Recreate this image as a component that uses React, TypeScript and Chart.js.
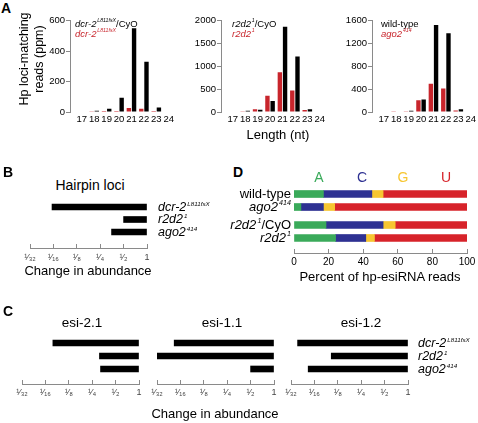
import React, { useEffect, useRef } from 'react';
import { Chart, registerables } from 'chart.js';

Chart.register(...registerables);

const FONT = '"Liberation Sans", Arial, Helvetica, sans-serif';
const W = 478;
const H = 423;

// ---------- Panel A: length distribution of hairpin-loci-matching reads (ppm) ----------
const lengthsNt = [17, 18, 19, 20, 21, 22, 23, 24];
const dcr2HetReads = [0, 8, 22, 93, 550, 330, 30, 0];
const dcr2MutReads = [0, 2, 6, 6, 26, 22, 6, 0];
const r2d2HetReads = [0, 30, 51, 239, 1870, 1217, 58, 0];
const r2d2MutReads = [0, 15, 58, 355, 870, 471, 43, 0];
const wildTypeReads = [0, 8, 20, 221, 1524, 1379, 47, 0];
const ago2MutReads = [0, 3, 15, 204, 495, 413, 25, 0];

// ---------- Panels B & C: change in abundance (fold, 1 = unchanged) ----------
const genotypeRows = ['dcr-2', 'r2d2', 'ago2'];
const hairpinLociChange = [0.06, 0.5, 0.35];
const esi21Change = [0.078, 0.31, 0.32];
const esi11Change = [0.052, 0.031, 0.5];
const esi12Change = [0.038, 0.103, 0.052];
const foldTickValues = [1 / 32, 1 / 16, 1 / 8, 1 / 4, 1 / 2, 1];
const foldTickLabels = ['¹⁄₃₂', '¹⁄₁₆', '¹⁄₈', '¹⁄₄', '¹⁄₂', '1'];

// ---------- Panel D: 5' nucleotide composition (percent) ----------
const nucleotideRows = ['wild-type', 'ago2', 'r2d2/CyO', 'r2d2'];
const nucleotides = ['A', 'C', 'G', 'U'];
const pctA = [17, 4, 18.5, 24];
const pctC = [28, 13, 33, 17.5];
const pctG = [6.5, 6.5, 7, 5];
const pctU = [48.5, 76.5, 41.5, 53.5];
const percentTicks = [0, 20, 40, 60, 80, 100];

const RED_BAR = '#c8252c';
const NUC_COLORS = ['#3aaa5a', '#2e3192', '#f7c631', '#d7232a'];
const AXIS_GREY = '#8a8a8a';
const SIDE = 20; // invisible side boxes that absorb tick-label overhang

const baseOptions = {
  animation: false,
  responsive: false,
  events: [] as any[],
  plugins: { legend: { display: false }, tooltip: { enabled: false }, title: { display: false } },
};

const hiddenSide = (position: string, extra: any = {}) => ({
  type: 'linear', position, display: true, offset: false,
  ticks: { display: false }, grid: { display: false }, border: { display: false },
  afterFit: (s: any) => { s.width = SIDE; },
  ...extra,
});

function lengthChart(red: number[], black: number[], max: number, step: number) {
  return () => ({
    type: 'bar',
    data: {
      datasets: [
        { data: lengthsNt.map((x, i) => ({ x, y: red[i] })), backgroundColor: RED_BAR },
        { data: lengthsNt.map((x, i) => ({ x, y: black[i] })), backgroundColor: '#000' },
      ],
    },
    options: {
      ...baseOptions,
      datasets: { bar: { categoryPercentage: 0.84, barPercentage: 0.84 } },
      layout: { padding: { top: 6, right: 0, bottom: 0, left: 0 } },
      scales: {
        x: {
          type: 'linear', min: 16.05, max: 24.5, offset: false, bounds: 'data',
          afterBuildTicks: (s: any) => { s.ticks = lengthsNt.map((v) => ({ value: v })); },
          grid: { display: false, drawTicks: false },
          border: { display: false },
          ticks: { autoSkip: false, maxRotation: 0, padding: 2, color: '#000', font: { family: FONT, size: 9.5 } },
          afterFit: (s: any) => { s.height = 16; },
        },
        y: {
          min: 0, max,
          ticks: { stepSize: step, padding: 1, color: '#000', font: { family: FONT, size: 9.5 }, callback: (v: any) => String(v) },
          grid: { drawOnChartArea: false, drawTicks: true, tickLength: 4, color: AXIS_GREY },
          border: { display: true, color: AXIS_GREY },
          afterFit: (s: any) => { s.width = 30; },
        },
      },
    },
  });
}

function foldChart(changes: number[], yMin: number, yMax: number, labelPad: number) {
  return () => ({
    type: 'bar',
    data: {
      datasets: [{
        data: changes.map((v, i) => ({ x: [Math.log2(v), Math.log2(1)], y: i })),
        backgroundColor: '#000',
        barThickness: 6,
      }],
    },
    options: {
      ...baseOptions,
      indexAxis: 'y',
      layout: { padding: { top: 3, left: 0, right: 0, bottom: 0 } },
      scales: {
        x: {
          type: 'linear', min: -5, max: 0, bounds: 'data', offset: false,
          afterBuildTicks: (s: any) => { s.ticks = foldTickValues.map((v) => ({ value: Math.log2(v) })); },
          ticks: {
            autoSkip: false, maxRotation: 0, padding: labelPad, color: '#444',
            font: { family: FONT, size: 9 },
            callback: (_v: any, i: number) => foldTickLabels[i],
          },
          grid: { drawOnChartArea: false, drawTicks: true, tickLength: -4, color: AXIS_GREY },
          border: { display: true, color: AXIS_GREY },
          afterFit: (s: any) => { s.height = 20; },
        },
        y: hiddenSide('left', { min: yMin, max: yMax, reverse: true }),
        yRight: hiddenSide('right'),
      },
    },
  });
}

function nucChart(rows: number[], yMin: number, yMax: number, showAxis: boolean) {
  const cols = [pctA, pctC, pctG, pctU];
  return () => ({
    type: 'bar',
    data: {
      datasets: cols.map((col, k) => ({
        label: nucleotides[k],
        data: rows.map((r, i) => ({ x: col[r], y: i })),
        backgroundColor: NUC_COLORS[k],
        barThickness: 7,
      })),
    },
    options: {
      ...baseOptions,
      indexAxis: 'y',
      layout: { padding: { top: 3, left: 0, right: 0, bottom: 0 } },
      scales: {
        x: {
          type: 'linear', stacked: true, min: 0, max: 100, bounds: 'data', display: showAxis,
          afterBuildTicks: (s: any) => { s.ticks = percentTicks.map((v) => ({ value: v })); },
          ticks: { autoSkip: false, maxRotation: 0, padding: 7, color: '#000', font: { family: FONT, size: 10 } },
          grid: { drawOnChartArea: false, drawTicks: true, tickLength: -4, color: AXIS_GREY },
          border: { display: true, color: AXIS_GREY },
          afterFit: (s: any) => { if (showAxis) s.height = 20; },
        },
        y: hiddenSide('left', { stacked: true, min: yMin, max: yMax, reverse: true }),
        yRight: hiddenSide('right'),
      },
    },
  });
}

function ChartCanvas({ left, top, width, height, make }: { left: number; top: number; width: number; height: number; make: () => any }) {
  const ref = useRef<HTMLCanvasElement>(null);
  useEffect(() => {
    const chart = new Chart(ref.current as HTMLCanvasElement, make());
    return () => chart.destroy();
  }, []);
  return (
    <canvas
      ref={ref}
      width={width}
      height={height}
      style={{ position: 'absolute', left, top, width, height, display: 'block' }}
    />
  );
}

function Txt({ x, y, size = 13, align = 'left', color = '#000', bold = false, italic = false, children }: any) {
  const lh = Math.round(size * 1.2);
  const s: any = {
    position: 'absolute', top: y - lh / 2, lineHeight: lh + 'px', fontSize: size, fontFamily: FONT,
    whiteSpace: 'nowrap', color, fontWeight: bold ? 'bold' : 'normal', fontStyle: italic ? 'italic' : 'normal',
  };
  if (align === 'left') s.left = x;
  else if (align === 'right') s.right = W - x;
  else { s.left = x; s.transform = 'translateX(-50%)'; }
  return <div style={s}>{children}</div>;
}

function Sup({ children, r = 0.5 }: any) {
  return <span style={{ fontSize: r + 'em', position: 'relative', top: '-0.8em', fontStyle: 'italic', marginLeft: '0.15em' }}>{children}</span>;
}

const geno: Record<string, (r?: number) => any> = {
  'dcr-2': (r = 0.5) => (<><i>dcr-2</i><Sup r={r}>L811fsX</Sup></>),
  r2d2: (r = 0.5) => (<><i>r2d2</i><Sup r={r}>1</Sup></>),
  ago2: (r = 0.5) => (<><i>ago2</i><Sup r={r}>414</Sup></>),
};

export default function App() {
  const rowsB = [207, 219, 232];
  const rowsC = [343, 356, 369];
  const rowsD = [194, 207, 225, 238];
  const nucX = [319, 362, 403, 446];
  const nucRowLabel = [
    <>wild-type</>,
    geno.ago2(0.55),
    <>{geno.r2d2(0.55)}/CyO</>,
    geno.r2d2(0.55),
  ];
  return (
    <div style={{ position: 'absolute', left: 0, top: 0, width: W, height: H, overflow: 'hidden', background: '#fff', fontFamily: FONT }}>
      {/* Panel A */}
      <ChartCanvas left={40} top={14} width={136} height={114} make={lengthChart(dcr2MutReads, dcr2HetReads, 600, 200)} />
      <ChartCanvas left={191} top={14} width={136} height={114} make={lengthChart(r2d2MutReads, r2d2HetReads, 2000, 500)} />
      <ChartCanvas left={342} top={14} width={136} height={114} make={lengthChart(ago2MutReads, wildTypeReads, 1600, 400)} />

      {/* Panel B: plot x 30..147 */}
      <ChartCanvas left={30 - SIDE} top={195} width={117 + 2 * SIDE} height={73} make={foldChart(hairpinLociChange, -0.72, 3.28, 8)} />

      {/* Panel C: plots 22..139, 157..274, 291..408 */}
      <ChartCanvas left={22 - SIDE} top={329} width={117 + 2 * SIDE} height={75} make={foldChart(esi21Change, -0.846, 3.154, 7)} />
      <ChartCanvas left={157 - SIDE} top={329} width={117 + 2 * SIDE} height={75} make={foldChart(esi11Change, -0.846, 3.154, 7)} />
      <ChartCanvas left={291 - SIDE} top={329} width={117 + 2 * SIDE} height={75} make={foldChart(esi12Change, -0.846, 3.154, 7)} />

      {/* Panel D: plot x 294..467 */}
      <ChartCanvas left={294 - SIDE} top={181} width={173 + 2 * SIDE} height={33} make={nucChart([0, 1], -0.769, 1.538, false)} />
      <ChartCanvas left={294 - SIDE} top={212} width={173 + 2 * SIDE} height={61} make={nucChart([2, 3], -0.769, 2.154, true)} />

      {/* Panel letters */}
      <Txt x={1} y={8} size={14} bold>A</Txt>
      <Txt x={3} y={172} size={14} bold>B</Txt>
      <Txt x={3} y={311} size={14} bold>C</Txt>
      <Txt x={233} y={172} size={14} bold>D</Txt>

      {/* Panel A annotations */}
      <div style={{
        position: 'absolute', left: 32, top: 59, width: 130, transform: 'translate(-50%,-50%) rotate(-90deg)',
        textAlign: 'center', fontSize: 12.5, lineHeight: '15px', fontFamily: FONT, whiteSpace: 'nowrap',
      }}>Hp loci-matching<br />reads (ppm)</div>
      <Txt x={278} y={135} size={13} align="center">Length (nt)</Txt>

      <Txt x={75} y={23} size={9.5}>{geno['dcr-2'](0.55)}/CyO</Txt>
      <Txt x={75} y={33} size={9.5} color={RED_BAR}>{geno['dcr-2'](0.55)}</Txt>
      <Txt x={232} y={23} size={9.5}>{geno.r2d2(0.55)}/CyO</Txt>
      <Txt x={232} y={33} size={9.5} color={RED_BAR}>{geno.r2d2(0.55)}</Txt>
      <Txt x={381} y={23} size={9.5}>wild-type</Txt>
      <Txt x={381} y={33} size={9.5} color={RED_BAR}>{geno.ago2(0.55)}</Txt>

      {/* Panel B annotations */}
      <Txt x={90} y={185} size={14} align="center">Hairpin loci</Txt>
      {genotypeRows.map((g, i) => (
        <Txt key={'b' + g} x={158} y={rowsB[i]} size={12.5}>{geno[g]()}</Txt>
      ))}
      <Txt x={88} y={271} size={13} align="center">Change in abundance</Txt>

      {/* Panel C annotations */}
      <Txt x={82} y={323} size={13.5} align="center">esi-2.1</Txt>
      <Txt x={222} y={323} size={13.5} align="center">esi-1.1</Txt>
      <Txt x={361} y={323} size={13.5} align="center">esi-1.2</Txt>
      {genotypeRows.map((g, i) => (
        <Txt key={'c' + g} x={418} y={rowsC[i]} size={12.5}>{geno[g]()}</Txt>
      ))}
      <Txt x={215} y={414} size={13} align="center">Change in abundance</Txt>

      {/* Panel D annotations */}
      {nucleotides.map((n, k) => (
        <Txt key={n} x={nucX[k]} y={177} size={14} align="center" color={NUC_COLORS[k]}>{n}</Txt>
      ))}
      {nucleotideRows.map((r, i) => (
        <Txt key={r} x={291} y={rowsD[i]} size={13} align="right">{nucRowLabel[i]}</Txt>
      ))}
      <Txt x={380} y={277} size={13} align="center">Percent of hp-esiRNA reads</Txt>
    </div>
  );
}
